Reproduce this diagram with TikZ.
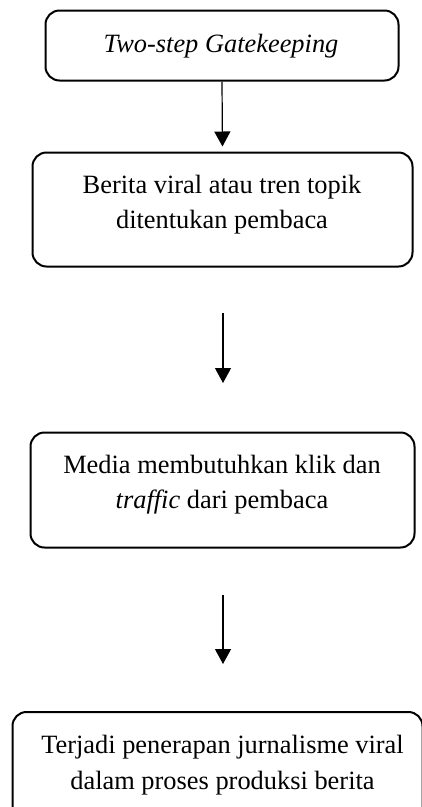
\documentclass[tikz,border=0pt]{standalone}
\usepackage{fontspec}
\setmainfont{Liberation Serif}
\usetikzlibrary{arrows.meta}
\begin{document}
\begin{tikzpicture}[x=1pt,y=-1pt,
  box/.style={draw, line width=2pt, rounded corners=14pt, rectangle, inner sep=0pt},
  txt/.style={font=\fontsize{26.4}{35}\selectfont, anchor=base, inner sep=0pt},
  arr/.style={line width=1.2pt, -{Triangle[length=15pt,width=16pt]}}]
\clip (0,0) rectangle (422,807);
% boxes
\node[box, minimum width=353pt, minimum height=70pt] (b1) at (222,45.5) {};
\node[box, minimum width=380pt, minimum height=114pt] (b2) at (222.5,209.5) {};
\node[box, minimum width=384pt, minimum height=115pt] (b3) at (222.5,490) {};
\node[box, minimum width=410pt, minimum height=118pt] (b4) at (217.5,771) {};
% texts
\node[txt] (t1) at (221,52) {\itshape Two-step Gatekeeping};
\node[txt] (t2a) at (222,193) {Berita viral atau tren topik};
\node[txt] (t2b) at (222,228) {ditentukan pembaca};
\node[txt] (t3a) at (222,473) {Media membutuhkan klik dan};
\node[txt] (t3b) at (222,508) {\itshape traffic\/\upshape{} dari pembaca};
\node[txt] (t4a) at (222.5,753) {Terjadi penerapan jurnalisme viral};
\node[txt] (t4b) at (222.5,789) {dalam proses produksi berita};
% arrows
\coordinate (a2s) at (223,313);
\coordinate (a2e) at (223,383);
\coordinate (a3s) at (223,595);
\coordinate (a3e) at (223,664);
\draw[arr, shorten >=5pt] (b1.south) -- (b2.north);
\draw[arr] (a2s) -- (a2e);
\draw[arr] (a3s) -- (a3e);
\end{tikzpicture}
\end{document}
